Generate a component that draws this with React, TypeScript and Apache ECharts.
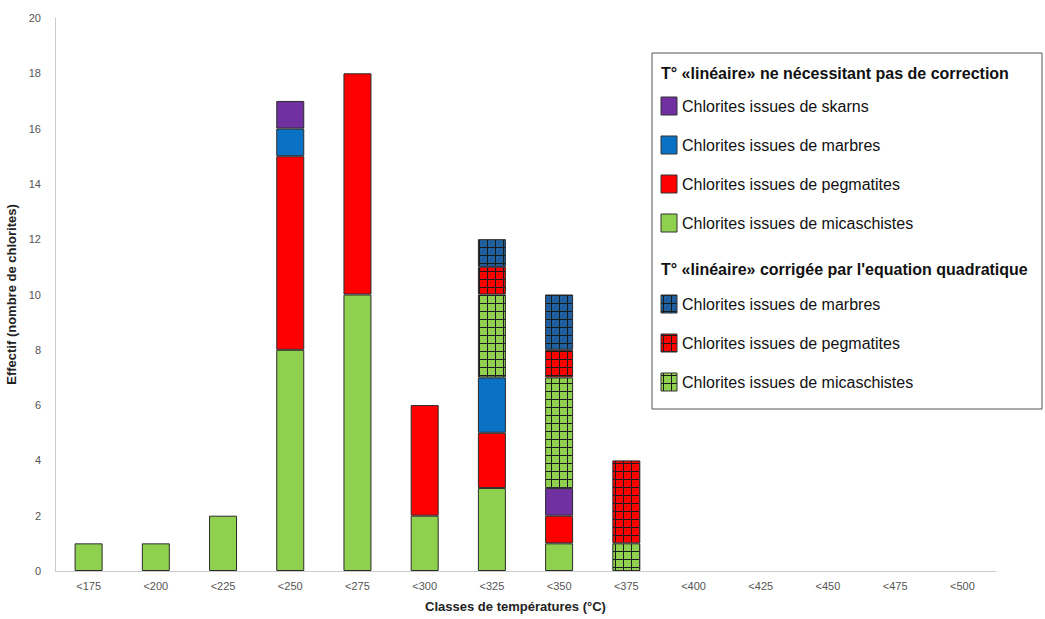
import React, { useEffect, useRef } from "react";
import * as echarts from "echarts";

const categories = ["<175", "<200", "<225", "<250", "<275", "<300", "<325", "<350", "<375", "<400", "<425", "<450", "<475", "<500"];
const micaschistes = [1, 1, 2, 8, 10, 2, 3, 1, 0, 0, 0, 0, 0, 0];
const pegmatites = [0, 0, 0, 7, 8, 4, 2, 1, 0, 0, 0, 0, 0, 0];
const marbres = [0, 0, 0, 1, 0, 0, 2, 0, 0, 0, 0, 0, 0, 0];
const skarns = [0, 0, 0, 1, 0, 0, 0, 1, 0, 0, 0, 0, 0, 0];
const corrMicaschistes = [0, 0, 0, 0, 0, 0, 3, 4, 1, 0, 0, 0, 0, 0];
const corrPegmatites = [0, 0, 0, 0, 0, 0, 1, 1, 3, 0, 0, 0, 0, 0];
const corrMarbres = [0, 0, 0, 0, 0, 0, 1, 2, 0, 0, 0, 0, 0, 0];
const yTicks = [0, 2, 4, 6, 8, 10, 12, 14, 16, 18, 20];

const GREEN = "#8fd14f";
const RED = "#ff0000";
const BLUE = "#0a72c4";
const PURPLE = "#7030a0";
const DBLUE = "#1f5f9e";
const FONT = "Arial, 'Liberation Sans', sans-serif";

function hatch(color: string): any {
  const c = document.createElement("canvas");
  c.width = 8;
  c.height = 8;
  const ctx = c.getContext("2d")!;
  ctx.fillStyle = color;
  ctx.fillRect(0, 0, 8, 8);
  ctx.fillStyle = "#1a1a1a";
  ctx.fillRect(7, 0, 1, 8);
  ctx.fillRect(0, 7, 8, 1);
  return { image: c, repeat: "repeat" };
}

export default function App() {
  const ref = useRef<HTMLDivElement>(null);
  useEffect(() => {
    const chart = echarts.init(ref.current!, null, { renderer: "svg" });
    const hGreen = hatch(GREEN);
    const hRed = hatch(RED);
    const hBlue = hatch(DBLUE);
    const mk = (name: string, data: number[], color: any) => ({
      name,
      type: "bar",
      stack: "t",
      data: data.map((v) => (v === 0 ? null : v)),
      barWidth: 28,
      itemStyle: { color, borderColor: "#2b2b2b", borderWidth: 1 },
    });
    const legendX = 661;
    const items: any[] = [];
    const title = (y: number, t: string) =>
      items.push({
        type: "text",
        left: legendX,
        top: y,
        style: { text: t, font: "bold 16px " + FONT, fill: "#111" },
      });
    const entry = (y: number, t: string, fill: any) => {
      items.push({
        type: "rect",
        shape: { x: legendX, y: y, width: 16, height: 18 },
        style: { fill, stroke: "#333", lineWidth: 1 },
      });
      items.push({
        type: "text",
        left: legendX + 21,
        top: y + 1,
        style: { text: t, font: "16px " + FONT, fill: "#111" },
      });
    };
    items.push({
      type: "rect",
      shape: { x: 652, y: 53, width: 390, height: 356 },
      style: { fill: "#fff", stroke: "#555", lineWidth: 1 },
    });
    title(65, "T° «linéaire» ne nécessitant pas de correction");
    entry(97, "Chlorites issues de skarns", PURPLE);
    entry(136, "Chlorites issues de marbres", BLUE);
    entry(175, "Chlorites issues de pegmatites", RED);
    entry(214, "Chlorites issues de micaschistes", GREEN);
    title(261, "T° «linéaire» corrigée par l'equation quadratique");
    entry(295, "Chlorites issues de marbres", hBlue);
    entry(334, "Chlorites issues de pegmatites", hRed);
    entry(373, "Chlorites issues de micaschistes", hGreen);

    chart.setOption({
      animation: false,
      backgroundColor: "#fff",
      grid: { left: 55, right: 49, top: 18, bottom: 48, containLabel: false, outerBoundsMode: "none" },
      xAxis: {
        type: "category",
        data: categories,
        name: "Classes de températures (°C)",
        nameLocation: "middle",
        nameGap: 29,
        nameTextStyle: { fontSize: 13, fontWeight: "bold", color: "#222", fontFamily: FONT, padding: [0, 20, 0, 0] },
        axisLine: { lineStyle: { color: "#ccc" } },
        axisTick: { show: false },
        axisLabel: { fontSize: 11, color: "#555", margin: 9, fontFamily: FONT },
      },
      yAxis: {
        type: "value",
        min: yTicks[0],
        max: yTicks[yTicks.length - 1],
        interval: 2,
        name: "Effectif (nombre de chlorites)",
        nameLocation: "middle",
        nameGap: 33,
        nameTextStyle: { fontSize: 13, fontWeight: "bold", color: "#222", fontFamily: FONT },
        axisLine: { show: true, lineStyle: { color: "#ccc" } },
        axisTick: { show: false },
        splitLine: { show: false },
        axisLabel: { fontSize: 11, color: "#555", margin: 14, fontFamily: FONT },
      },
      series: [
        mk("Chlorites issues de micaschistes", micaschistes, GREEN),
        mk("Chlorites issues de pegmatites", pegmatites, RED),
        mk("Chlorites issues de marbres", marbres, BLUE),
        mk("Chlorites issues de skarns", skarns, PURPLE),
        mk("Chlorites issues de micaschistes (corrigée)", corrMicaschistes, hGreen),
        mk("Chlorites issues de pegmatites (corrigée)", corrPegmatites, hRed),
        mk("Chlorites issues de marbres (corrigée)", corrMarbres, hBlue),
      ],
      graphic: items,
    });
    return () => chart.dispose();
  }, []);
  return <div ref={ref} style={{ width: 1045, height: 619, position: "absolute", left: 0, top: 0 }} />;
}
